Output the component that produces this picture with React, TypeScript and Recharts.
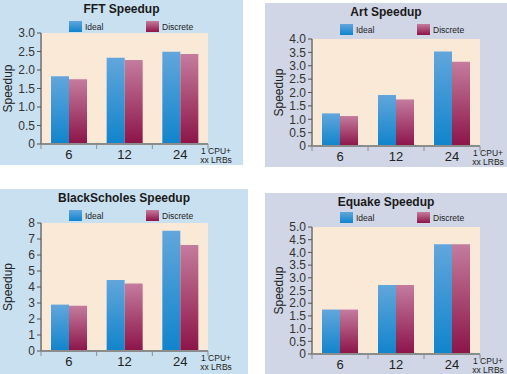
import { BarChart, Bar, XAxis, YAxis, CartesianGrid, Legend } from "recharts";

// categories: 1 CPU + N LRBs
const CATEGORIES = ["6", "12", "24"];
const SERIES_KEYS = ["ideal", "discrete"];

const FFT_IDEAL = [1.83, 2.33, 2.49];
const FFT_DISCRETE = [1.75, 2.27, 2.43];
const FFT_TICKS = [0, 0.5, 1, 1.5, 2, 2.5, 3];

const ART_IDEAL = [1.22, 1.91, 3.53];
const ART_DISCRETE = [1.12, 1.74, 3.15];
const ART_TICKS = [0, 0.5, 1, 1.5, 2, 2.5, 3, 3.5, 4];

const BS_IDEAL = [2.9, 4.44, 7.52];
const BS_DISCRETE = [2.83, 4.22, 6.63];
const BS_TICKS = [0, 1, 2, 3, 4, 5, 6, 7, 8];

const EQ_IDEAL = [1.75, 2.72, 4.32];
const EQ_DISCRETE = [1.75, 2.72, 4.32];
const EQ_TICKS = [0, 0.5, 1, 1.5, 2, 2.5, 3, 3.5, 4, 4.5, 5];

const X_NOTE = ["1 CPU+", "xx LRBs"];

const FONT = "'Liberation Sans', Arial, Helvetica, sans-serif";
const FRAME = "#8c8c8c";
const PLOT_BG = "#fbe9d8";
const LEFT_BG = "#c9e0f0";
const RIGHT_BG = "#d0d6e6";
const Y_W = 30;
const X_H = 20;

const SWATCH: Record<string, string> = {
  ideal: "linear-gradient(#62a6dc, #1084cc)",
  discrete: "linear-gradient(#c47c9e, #8c1448)",
};

type Box = { x: number; y: number; w: number; h: number };
type Plot = { left: number; top: number; right: number; bottom: number };

function XTick(props: any) {
  const { x, y, payload, index, visibleTicksCount } = props;
  const half = payload?.offset ?? 0;
  const last = index === visibleTicksCount - 1;
  return (
    <g>
      <line x1={x - half} x2={x - half} y1={y} y2={y + 5} stroke={FRAME} strokeWidth={1} />
      {last && <line x1={x + half} x2={x + half} y1={y} y2={y + 5} stroke={FRAME} strokeWidth={1} />}
      <text x={x} y={y + 15} textAnchor="middle" fontSize={13} fill="#222" fontFamily={FONT}>
        {payload.value}
      </text>
    </g>
  );
}

function LegendContent({ payload }: any) {
  const items = [...(payload || [])].sort(
    (a: any, b: any) => SERIES_KEYS.indexOf(a.dataKey) - SERIES_KEYS.indexOf(b.dataKey)
  );
  return (
    <div style={{ display: "flex", fontFamily: FONT }}>
      {items.map((p: any) => (
        <div key={p.dataKey} style={{ width: 77, display: "flex", alignItems: "center" }}>
          <span style={{ width: 13, height: 11, background: SWATCH[p.dataKey], display: "inline-block" }} />
          <span style={{ marginLeft: 3, fontSize: 8.5, color: "#222" }}>{p.value}</span>
        </div>
      ))}
    </div>
  );
}

function SpeedupPanel(props: {
  id: string;
  title: string;
  ideal: number[];
  discrete: number[];
  ticks: number[];
  decimals: number;
  box: Box;
  plot: Plot;
  bg: string;
  legendTop: number;
}) {
  const { id, title, ideal, discrete, ticks, decimals, box, plot, bg, legendTop } = props;
  const data = CATEGORIES.map((cat, i) => ({ cat, ideal: ideal[i], discrete: discrete[i] }));
  const max = ticks[ticks.length - 1];
  const margin = {
    top: plot.top - box.y,
    left: plot.left - box.x - Y_W,
    right: box.x + box.w - plot.right,
    bottom: box.y + box.h - plot.bottom - X_H,
  };
  const fmt = (v: number) => (v === 0 ? "0" : v.toFixed(decimals));

  return (
    <div style={{ position: "absolute", left: box.x, top: box.y, width: box.w, height: box.h, background: bg }}>
      <div
        style={{
          position: "absolute",
          top: 2,
          left: 0,
          width: box.w,
          textAlign: "center",
          fontFamily: FONT,
          fontWeight: "bold",
          fontSize: 12,
          lineHeight: "15px",
          color: "#1a1a1a",
        }}
      >
        {title}
      </div>
      <BarChart width={box.w} height={box.h} data={data} margin={margin} barGap={0}>
        <defs>
          <linearGradient id={`${id}-ideal`} x1="0" y1="0" x2="0" y2="1">
            <stop offset="0%" stopColor="#62a6dc" />
            <stop offset="100%" stopColor="#1084cc" />
          </linearGradient>
          <linearGradient id={`${id}-discrete`} x1="0" y1="0" x2="0" y2="1">
            <stop offset="0%" stopColor="#c47c9e" />
            <stop offset="100%" stopColor="#8c1448" />
          </linearGradient>
        </defs>
        <CartesianGrid fill={PLOT_BG} horizontal={false} vertical={false} />
        <XAxis
          dataKey="cat"
          height={X_H}
          tickSize={0}
          tickMargin={0}
          tickLine={false}
          axisLine={{ stroke: FRAME, strokeWidth: 2 }}
          tick={<XTick />}
          interval={0}
          label={{
            content: ({ viewBox }: any) => (
              <text
                x={viewBox.x + viewBox.width + 8}
                y={viewBox.y + 10}
                textAnchor="middle"
                fontSize={8.5}
                fill="#222"
                fontFamily={FONT}
              >
                <tspan x={viewBox.x + viewBox.width + 8}>{X_NOTE[0]}</tspan>
                <tspan x={viewBox.x + viewBox.width + 8} dy={8.5}>
                  {X_NOTE[1]}
                </tspan>
              </text>
            ),
          }}
        />
        <XAxis xAxisId="frame" dataKey="cat" orientation="top" height={0} tick={false} tickLine={false} axisLine={{ stroke: FRAME, strokeWidth: 2 }} />
        <YAxis
          width={Y_W}
          domain={[0, max]}
          ticks={ticks}
          interval={0}
          tickFormatter={fmt}
          tickSize={4}
          tickMargin={2}
          tickLine={{ stroke: "#555" }}
          axisLine={{ stroke: FRAME, strokeWidth: 2 }}
          tick={{ fontSize: 12, fill: "#333", fontFamily: FONT }}
          label={{
            content: ({ viewBox }: any) => {
              const cx = viewBox.x + viewBox.width - 33;
              const cy = viewBox.y + viewBox.height / 2;
              return (
                <text
                  x={cx}
                  y={cy}
                  transform={`rotate(-90, ${cx}, ${cy})`}
                  textAnchor="middle"
                  dominantBaseline="central"
                  fontSize={12}
                  fill="#222"
                  fontFamily={FONT}
                >
                  Speedup
                </text>
              );
            },
          }}
        />
        <YAxis yAxisId="frame" orientation="right" width={0} domain={[0, max]} tick={false} tickLine={false} axisLine={{ stroke: FRAME, strokeWidth: 2 }} />
        <Legend
          layout="horizontal"
          verticalAlign="middle"
          wrapperStyle={{ top: legendTop, left: plot.left - box.x + 28, width: 170, height: 12 }}
          content={<LegendContent />}
        />
        <Bar dataKey="ideal" name="Ideal" fill={`url(#${id}-ideal)`} barSize={18} isAnimationActive={false} />
        <Bar dataKey="discrete" name="Discrete" fill={`url(#${id}-discrete)`} barSize={18} isAnimationActive={false} />
      </BarChart>
    </div>
  );
}

export default function App() {
  return (
    <div style={{ position: "absolute", left: 0, top: 0, width: 507, height: 374, background: "#fff", overflow: "hidden" }}>
      <SpeedupPanel
        id="fft"
        title="FFT Speedup"
        ideal={FFT_IDEAL}
        discrete={FFT_DISCRETE}
        ticks={FFT_TICKS}
        decimals={1}
        box={{ x: 0, y: 0, w: 243, h: 165 }}
        plot={{ left: 41, top: 33, right: 208, bottom: 144 }}
        bg={LEFT_BG}
        legendTop={21}
      />
      <SpeedupPanel
        id="art"
        title="Art Speedup"
        ideal={ART_IDEAL}
        discrete={ART_DISCRETE}
        ticks={ART_TICKS}
        decimals={1}
        box={{ x: 265, y: 3, w: 242, h: 164 }}
        plot={{ left: 312, top: 39, right: 480, bottom: 146 }}
        bg={RIGHT_BG}
        legendTop={21}
      />
      <SpeedupPanel
        id="bs"
        title="BlackScholes Speedup"
        ideal={BS_IDEAL}
        discrete={BS_DISCRETE}
        ticks={BS_TICKS}
        decimals={0}
        box={{ x: 0, y: 189, w: 248, h: 185 }}
        plot={{ left: 41, top: 223, right: 208, bottom: 351 }}
        bg={LEFT_BG}
        legendTop={21}
      />
      <SpeedupPanel
        id="eq"
        title="Equake Speedup"
        ideal={EQ_IDEAL}
        discrete={EQ_DISCRETE}
        ticks={EQ_TICKS}
        decimals={1}
        box={{ x: 265, y: 193, w: 242, h: 181 }}
        plot={{ left: 312, top: 227, right: 480, bottom: 354 }}
        bg={RIGHT_BG}
        legendTop={19}
      />
    </div>
  );
}
